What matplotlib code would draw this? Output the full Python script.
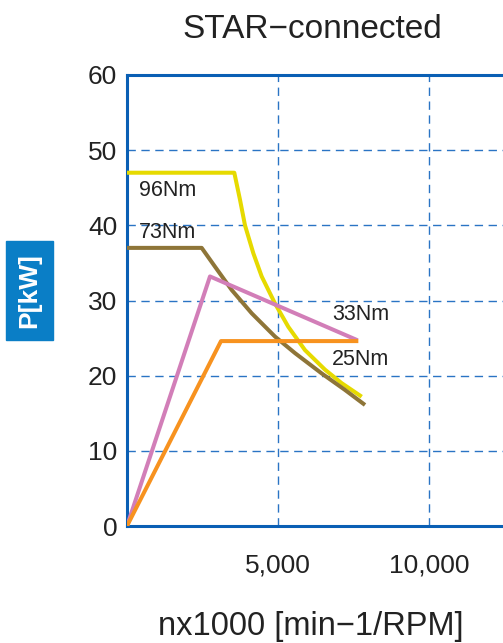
import matplotlib
matplotlib.use("Agg")
import matplotlib.pyplot as plt
from matplotlib.patches import Rectangle

# speed (min-1) / power (kW)
n_96 = [0, 3553, 3742, 3907, 4182, 4460, 4901, 5341, 5894, 6556, 7109, 7772]
p_96 = [47.0, 47.0, 43.4, 40.0, 36.3, 33.2, 29.6, 26.5, 23.4, 20.8, 19.0, 17.2]

n_73 = [0, 2473, 2914, 3467, 4129, 4901, 5563, 6446, 7219, 7881]
p_73 = [37.0, 37.0, 34.5, 31.4, 28.3, 25.2, 23.0, 20.3, 18.1, 16.1]

n_33 = [0, 2748, 7640]
p_33 = [0, 33.2, 24.7]

n_25 = [0, 3113, 7660]
p_25 = [0, 24.6, 24.6]

x_ticks = [5000, 10000]
x_tick_labels = ["5,000", "10,000"]
y_ticks = [0, 10, 20, 30, 40, 50, 60]

blue = "#0A5FB4"
grid_blue = "#2A74C4"
text = "#222222"

plt.rcParams.update({
    "font.family": ["Liberation Sans", "DejaVu Sans"],
})

W, H = 503, 643
fig = plt.figure(figsize=(W / 100, H / 100), dpi=100)
ax = fig.add_axes([127 / W, 1 - 526 / H, (504.5 - 127) / W, (526 - 75) / H])

lw = 2.9
ax.plot(n_96, p_96, color="#E6DA00", lw=lw, solid_capstyle="butt", zorder=3)
ax.plot(n_73, p_73, color="#8E7538", lw=lw, solid_capstyle="butt", zorder=4)
ax.plot(n_33, p_33, color="#D27EB8", lw=lw, solid_capstyle="butt", zorder=5)
ax.plot(n_25, p_25, color="#F7921F", lw=lw, solid_capstyle="butt", zorder=6)

lab = dict(fontsize=15.5, color=text, va="center", ha="left")
ax.text(400, 44.7, "96Nm", **lab)
ax.text(400, 39.0, "73Nm", **lab)
ax.text(6800, 28.1, "33Nm", **lab)
ax.text(6800, 22.1, "25Nm", **lab)

ax.set_xlim(0, 12500)
ax.set_ylim(0, 60)
ax.set_xticks(x_ticks)
ax.set_xticklabels(x_tick_labels)
ax.set_yticks(y_ticks)
ax.tick_params(axis="both", length=0, labelsize=19, colors=text)
ax.tick_params(axis="x", pad=20)
ax.tick_params(axis="y", pad=7)

for side in ["left", "bottom", "top"]:
    ax.spines[side].set_color(blue)
    ax.spines[side].set_linewidth(2.2)
ax.spines["right"].set_visible(False)

ax.grid(True, color=grid_blue, linestyle=(0, (6, 4)), linewidth=1.0)
ax.set_axisbelow(True)

fig.text(312 / W, 1 - 30 / H, "STAR\u2212connected", fontsize=24,
         color=text, ha="center", va="center")
fig.text(311 / W, 1 - 626 / H, "nx1000 [min\u22121/RPM]", fontsize=23.5,
         color=text, ha="center", va="center")

fig.patches.append(Rectangle((6 / W, 1 - 340 / H), 47 / W, 99 / H,
                             transform=fig.transFigure, color="#0A7EC6",
                             zorder=1))
fig.text(29.5 / W, 1 - 290.5 / H, "P[kW]", fontsize=19, fontweight="bold",
         color="white", rotation=90, ha="center", va="center")

fig.savefig("out.png", dpi=100)
